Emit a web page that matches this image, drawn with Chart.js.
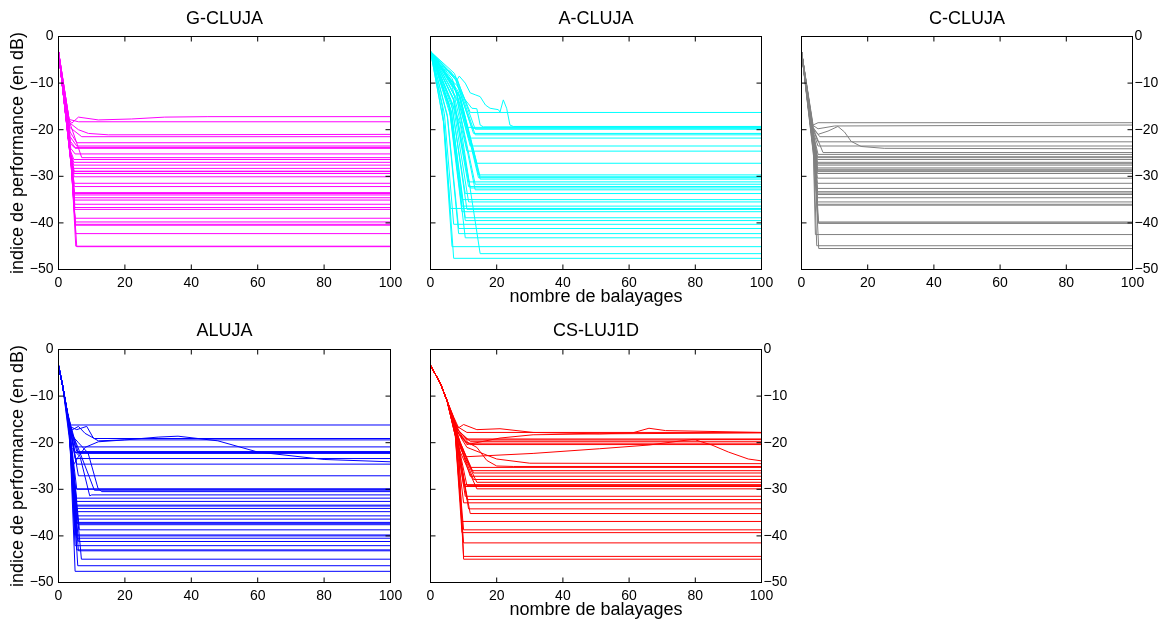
<!DOCTYPE html>
<html>
<head>
<meta charset="utf-8">
<script src="https://cdn.jsdelivr.net/npm/chart.js@4.4.1/dist/chart.umd.min.js"></script>
<style>
  body { margin: 0; background: #fff; }
  #wrap { position: relative; width: 1168px; height: 622px; overflow: hidden; }
  canvas { position: absolute; }
</style>
</head>
<body>
<div id="wrap">
  <canvas id="p1" width="410" height="310" style="left:0px;top:0px"></canvas>
  <canvas id="p2" width="370" height="310" style="left:410px;top:0px"></canvas>
  <canvas id="p3" width="388" height="310" style="left:780px;top:0px"></canvas>
  <canvas id="p4" width="410" height="310" style="left:0px;top:312px"></canvas>
  <canvas id="p5" width="390" height="310" style="left:410px;top:312px"></canvas>
</div>
<script>
const xTicks = [0, 20, 40, 60, 80, 100];
const yTicks = [0, -10, -20, -30, -40, -50];
const xLabel = "nombre de balayages";
const yLabel = "indice de performance (en dB)";

// G-CLUJA : plateau level, sweep where it is reached, one knee on the way down
const gcHead = [[0, -3.2]];
const gcLevel = [-18.3, -21.5, -22.8, -23.5, -23.8, -24.0, -25.2, -26.0, -26.4, -27.0, -27.6, -28.3, -28.9, -29.0, -29.4, -30.1, -31.5, -32.2, -33.5, -33.7, -34.0, -34.6, -35.1, -36.0, -36.7, -37.1, -39.0, -39.8, -40.3, -40.5, -42.3, -45.0, -45.1];
const gcDrop  = [6, 7, 5.5, 5.5, 5, 5, 5, 7, 4.6, 4.6, 4.6, 4.6, 4.7, 4.7, 4.7, 4.7, 4.7, 4.8, 4.8, 4.8, 4.8, 4.8, 4.8, 4.9, 4.9, 4.9, 5, 5, 5, 5.1, 5.2, 5.2, 5.5];
const gcKneeX = [3.2, 3.4, 3.5, 3.5, 3.6, 3.6, 3.7, 3.3, 3.6, 3.6, 3.6, 3.6, 3.6, 3.6, 3.7, 3.7, 3.7, 3.7, 3.7, 3.7, 3.8, 3.8, 3.8, 3.8, 3.8, 3.8, 3.8, 3.8, 3.8, 3.8, 3.9, 3.9, 3.9];
const gcKneeY = [-17.8, -19.5, -20.5, -21.5, -22.5, -23, -24, -18.3, -24.5, -25, -25, -25.5, -25.5, -25.5, -26, -26, -26, -26.5, -26.5, -26.5, -27, -27, -27, -27, -27, -27, -27.5, -27.5, -27.5, -27.5, -27.5, -27.5, -27.5];
const gcExtra = [
  [[0, -3.2], [3.2, -17.9], [4, -18.6], [6, -17.3], [12, -17.9], [22, -17.7], [32, -17.3], [45, -17.2], [100, -17.2]],
  [[0, -3.2], [3.3, -18.5], [6, -20], [9, -20.8], [15, -21.1], [100, -21.0]]
];

// A-CLUJA
const acHead = [[0, -3.2]];
const acLevel = [-16.3, -19.5, -19.7, -19.9, -20.8, -21.1, -21.8, -23.5, -24.6, -27.2, -29.7, -30.1, -30.3, -30.6, -31.2, -31.7, -32.2, -32.5, -32.9, -33.7, -35.0, -35.5, -36.4, -36.9, -37.1, -37.6, -38.9, -39.5, -40.3, -41.2, -42.3, -43.2, -45.1, -46.6, -47.6];
const acDrop  = [12, 11, 12.5, 13.5, 13, 13.5, 11.5, 12, 11, 14, 14.5, 15, 14.5, 15, 11.5, 13.5, 11.5, 12, 13.5, 10.5, 9.5, 11.5, 9.5, 6, 11, 9.5, 10.5, 10.5, 7, 8.5, 8.5, 10.5, 6.5, 15, 7];
const acKneeX = [7.2, 6.6, 7.5, 8.1, 7.8, 8.1, 6.9, 7.2, 6.6, 8.4, 8.7, 9, 8.7, 9, 6.9, 8.1, 6.9, 7.2, 8.1, 6.3, 5.7, 6.9, 5.7, 3.6, 6.6, 5.7, 6.3, 6.3, 4.2, 5.1, 5.1, 6.3, 3.9, 9, 4.2];
const acKneeY = [-7.9, -9.1, -9.1, -9.2, -9.5, -9.6, -9.9, -10.5, -10.9, -11.8, -12.7, -12.9, -13, -13.1, -13.3, -13.5, -13.6, -13.7, -13.9, -14.2, -14.6, -14.8, -15.2, -15.3, -15.4, -15.6, -16, -16.3, -16.6, -16.9, -17.3, -17.6, -18.3, -18.8, -19.2];
const acExtra = [
  [[0, -3.2], [1.5, -6.5], [4.5, -7.1], [6, -7.5], [8, -9.3], [8.7, -8.5], [10.5, -10], [12, -12.1], [13.5, -12.5], [15, -12.9], [16.6, -14.7], [18, -15.4], [20.5, -15.7], [21, -16.2], [22, -13.6], [23, -15.4], [24, -19.0], [25, -19.3], [100, -19.3]],
  [[0, -3.2], [5, -8.5], [8, -10.5], [10.5, -13.6], [12.5, -15.4], [14, -15.5], [15, -19], [16, -19.4], [100, -19.4]]
];

// C-CLUJA
const ccHead = [[0, -3.2]];
const ccLevel = [-21.5, -22.6, -23.5, -24.9, -25.3, -25.8, -26.0, -26.4, -27.0, -27.3, -27.6, -28.2, -28.5, -28.8, -29.0, -29.4, -30.4, -31.5, -32.6, -33.3, -33.6, -33.9, -34.6, -35.5, -36.0, -36.2, -39.8, -40.0, -40.1, -42.5, -44.9, -45.5];
const ccDrop  = [5.5, 5, 5, 6.5, 5, 4.8, 4.8, 4.8, 4.8, 4.8, 4.8, 4.8, 4.8, 4.8, 4.8, 4.8, 4.8, 4.8, 4.8, 4.8, 4.8, 4.8, 4.8, 4.8, 4.8, 4.8, 5, 5, 5.2, 4.2, 4.6, 5.2];
const ccKneeX = [3.5, 3.5, 3.5, 3.4, 3.6, 3.6, 3.6, 3.6, 3.6, 3.6, 3.6, 3.7, 3.7, 3.7, 3.7, 3.7, 3.7, 3.7, 3.8, 3.8, 3.8, 3.8, 3.8, 3.8, 3.8, 3.8, 3.9, 3.9, 3.9, 3.6, 3.7, 3.9];
const ccKneeY = [-19.5, -20, -20.5, -19.5, -21, -21, -21.5, -21.5, -22, -22, -22, -22.5, -22.5, -22.5, -23, -23, -23, -23.5, -24, -24, -24, -24, -24.5, -24.5, -25, -25, -26, -26, -26, -25, -26, -26];
const ccExtra = [
  [[0, -3.2], [3.5, -19], [5, -18.5], [100, -18.5]],
  [[0, -3.2], [3.3, -19], [5, -19.8], [10, -19.2], [100, -19.0]],
  [[0, -3.2], [3.6, -20], [5, -21], [8, -20.3], [11, -19.3], [13, -20.5], [15, -22.5], [18, -23.6], [25, -24], [100, -24.1]]
];

// ALUJA
const alHead = [[0, -3.4], [1.3, -8]];
const alLevel = [-16.2, -20.9, -21.9, -22.1, -22.3, -23.4, -24.6, -27.1, -29.9, -30.0, -31.9, -32.6, -33.4, -33.6, -34.1, -34.8, -35.7, -36.4, -37.1, -37.3, -37.6, -38.7, -39.8, -40.0, -40.5, -41.2, -42.1, -43.0, -43.2, -45.0, -46.4, -47.6];
const alDrop  = [3.6, 5, 5.5, 5, 6, 5, 5.5, 6, 5, 5.5, 5, 5.5, 5, 5.5, 5, 5.5, 5, 5.5, 5, 5.5, 6, 6.3, 5, 5.5, 5.5, 6, 5, 5.5, 6, 6.9, 5.8, 5];
const alKneeX = [2.6, 2.8, 2.8, 2.9, 2.8, 2.9, 2.9, 3, 3, 3, 3, 3, 3, 3, 3, 3.1, 3.1, 3.1, 3.1, 3.1, 3.1, 3.2, 3.2, 3.2, 3.2, 3.2, 3.2, 3.2, 3.2, 3.3, 3.3, 3.3];
const alKneeY = [-13, -14, -14, -14.5, -14, -14.5, -14.5, -15, -15, -15, -15, -15, -15.5, -15.5, -15.5, -15.5, -16, -16, -16, -16, -16, -16, -16.5, -16.5, -16.5, -16.5, -16.5, -17, -17, -17, -17, -17];
const alExtra = [
  [[0, -3.4], [1.3, -8], [3.3, -16.5], [5.5, -17.2], [8.5, -16.5], [10.5, -19], [12, -19.6], [20, -19.4], [30, -18.8], [36, -18.6], [48, -19.6], [60, -22], [80, -23.6], [100, -24.1]],
  [[0, -3.4], [1.3, -8], [3.5, -17.5], [6, -16.5], [8, -18], [10.8, -19.1], [100, -19.1]],
  [[0, -3.4], [1.3, -8], [3.5, -18], [6, -20], [8.9, -22.2], [11.9, -29.8], [13, -30.5], [100, -30.5]],
  [[0, -3.4], [1.3, -8], [3.8, -21], [6.5, -23], [9.4, -31.4], [10, -31.2], [100, -31.2]],
  [[0, -3.4], [1.3, -8], [4.3, -25], [6, -23], [8, -21], [12, -19.8], [20, -19.4], [100, -19.4]],
  [[0, -3.4], [1.3, -8], [3.5, -17], [5.8, -20.9], [9.3, -27.4], [10.8, -30.2], [100, -30.2]]
];

// CS-LUJ1D
const csHead = [[0, -3.4], [3, -7.3], [5, -11]];
const csLevel = [-17.8, -19.2, -19.7, -20.1, -20.4, -25.3, -26.0, -26.5, -27.2, -27.9, -28.5, -29.0, -29.2, -29.4, -29.9, -31.5, -32.2, -32.9, -34.2, -35.2, -36.9, -38.7, -39.3, -41.5, -44.4, -45.0];
const csDrop  = [11, 11, 12, 11, 12, 12, 12.5, 13, 12, 13, 14, 10, 11, 10.5, 14, 10.5, 11, 10, 11.5, 12, 9.5, 10, 9.5, 10, 10, 10];
const csKneeX = [8, 8, 8.5, 8, 8.5, 8.5, 8.5, 9, 8.5, 9, 9, 7.5, 8, 8, 9, 7.5, 8, 7.5, 8, 8, 7.5, 7.5, 7.5, 7.5, 8, 8.5];
const csKneeY = [-16.5, -17, -17.5, -17.5, -18, -19, -19.5, -20, -19.5, -21, -21, -18, -19, -19, -22, -18, -19, -18, -19, -20, -18, -18, -18.5, -18.5, -20, -21];
const csExtra = [
  [[0, -3.4], [3, -7.3], [5, -11], [7, -14.5], [8.5, -16.8], [10, -16.1], [14, -17.2], [21, -17.0], [31, -17.8], [51, -18.1], [61, -17.9], [66, -16.9], [71, -17.4], [100, -17.8]],
  [[0, -3.4], [3, -7.3], [5, -11], [7.5, -16], [9, -18], [11, -20.4], [21, -19], [31, -18.3], [50, -18.1], [100, -17.9]],
  [[0, -3.4], [3, -7.3], [5, -11], [8, -18], [10, -22.5], [11, -23], [31, -22.3], [51, -21.3], [66, -20.5], [79, -19.3], [100, -19.3]],
  [[0, -3.4], [3, -7.3], [5, -11], [8, -17], [11, -19.4], [80, -19.4], [85, -20.5], [90, -22], [96, -23.5], [100, -23.9]],
  [[0, -3.4], [3, -7.3], [5, -11], [7.5, -17], [10, -19.5], [14, -21], [17, -23.8], [20, -25], [25, -25.1], [100, -25.1]],
  [[0, -3.4], [3, -7.3], [5, -11], [8, -17.5], [11, -21], [20, -23.5], [30, -24.4], [100, -24.5]]
];

Chart.defaults.font.family = "'Liberation Sans', Arial, Helvetica, sans-serif";
Chart.defaults.color = "#000";

function buildLines(head, level, drop, kneeX, kneeY, extra) {
  const lines = level.map((v, i) => head.concat([[kneeX[i], kneeY[i]], [drop[i], v], [100, v]]));
  return lines.concat(extra);
}

// matlab-like box with inward ticks on the 4 sides
const frameTicks = {
  id: "frameTicks",
  afterDatasetsDraw(chart) {
    const { ctx, chartArea: a, scales } = chart;
    const x = scales.x, y = scales.y, len = 5;
    ctx.save();
    ctx.strokeStyle = "#000";
    ctx.lineWidth = 1;
    ctx.beginPath();
    xTicks.forEach(v => {
      const px = x.getPixelForValue(v);
      ctx.moveTo(px, a.bottom); ctx.lineTo(px, a.bottom - len);
      ctx.moveTo(px, a.top); ctx.lineTo(px, a.top + len);
    });
    yTicks.forEach(v => {
      const py = y.getPixelForValue(v);
      ctx.moveTo(a.left, py); ctx.lineTo(a.left + len, py);
      ctx.moveTo(a.right, py); ctx.lineTo(a.right - len, py);
    });
    ctx.stroke();
    ctx.strokeRect(a.left, a.top, a.right - a.left, a.bottom - a.top);
    ctx.restore();
  }
};

const panels = [
  { id: "p1", title: "G-CLUJA", color: "#ff00ff", lines: buildLines(gcHead, gcLevel, gcDrop, gcKneeX, gcKneeY, gcExtra),
    box: [0, 0, 410, 310], area: [58.5, 36.5, 390.5, 269.5], yPos: "left", yTickLabels: true, yTitle: true, xTitle: false },
  { id: "p2", title: "A-CLUJA", color: "#00ffff", lines: buildLines(acHead, acLevel, acDrop, acKneeX, acKneeY, acExtra),
    box: [410, 0, 370, 310], area: [430.5, 36.5, 761.5, 269.5], yPos: "left", yTickLabels: false, yTitle: false, xTitle: true },
  { id: "p3", title: "C-CLUJA", color: "#808080", lines: buildLines(ccHead, ccLevel, ccDrop, ccKneeX, ccKneeY, ccExtra),
    box: [780, 0, 388, 310], area: [801.5, 36.5, 1132.5, 269.5], yPos: "right", yTickLabels: true, yTitle: false, xTitle: false },
  { id: "p4", title: "ALUJA", color: "#0000ff", lines: buildLines(alHead, alLevel, alDrop, alKneeX, alKneeY, alExtra),
    box: [0, 312, 410, 310], area: [58.5, 349.5, 390.5, 582.5], yPos: "left", yTickLabels: true, yTitle: true, xTitle: false },
  { id: "p5", title: "CS-LUJ1D", color: "#ff0000", lines: buildLines(csHead, csLevel, csDrop, csKneeX, csKneeY, csExtra),
    box: [410, 312, 390, 310], area: [430.5, 349.5, 761.5, 582.5], yPos: "right", yTickLabels: true, yTitle: false, xTitle: true }
];

function makePanel(p) {
  const [bx, by, bw, bh] = p.box;
  const [al, at, ar, ab] = p.area;
  const L = al - bx, R = bx + bw - ar, T = at - by, B = by + bh - ab;
  const yWidth = p.yPos === "left" ? L : R;

  const datasets = p.lines.map(pts => ({
    data: pts.map(q => ({ x: q[0], y: q[1] })),
    borderColor: p.color,
    borderWidth: 1,
    pointRadius: 0,
    fill: false,
    tension: 0,
    xAxisID: "x",
    yAxisID: "y"
  }));

  return new Chart(document.getElementById(p.id), {
    type: "line",
    data: { datasets: datasets },
    options: {
      responsive: false,
      animation: false,
      events: [],
      layout: { padding: { left: p.yPos === "right" ? L : 0, right: p.yPos === "left" ? R : 0, top: 0, bottom: 0 } },
      plugins: { legend: { display: false }, tooltip: { enabled: false } },
      scales: {
        x: {
          type: "linear", position: "bottom", min: 0, max: 100,
          grid: { display: false, drawTicks: false }, border: { display: false },
          ticks: { stepSize: 20, padding: 5, maxRotation: 0, autoSkip: false, font: { size: 14 } },
          title: { display: p.xTitle, text: xLabel, font: { size: 18 }, padding: { top: 0, bottom: B - 27.5 - 10.8 } },
          afterFit(s) { s.height = B; }
        },
        xTop: {
          type: "linear", position: "top", min: 0, max: 100,
          grid: { display: false, drawTicks: false }, border: { display: false },
          ticks: { display: false },
          title: { display: true, text: p.title, font: { size: 18 }, padding: { top: 8, bottom: 0 } },
          afterFit(s) { s.height = T; }
        },
        y: {
          type: "linear", position: p.yPos, min: -50, max: 0,
          grid: { display: false, drawTicks: false }, border: { display: false },
          ticks: {
            display: p.yTickLabels, stepSize: 10, padding: p.yPos === "left" ? 5 : 2, font: { size: 14 },
            callback: v => (v < 0 ? "\u2212" + (-v) : String(v))
          },
          title: { display: p.yTitle, text: yLabel, font: { size: 18 }, padding: { top: 7.5, bottom: 0 } },
          afterFit(s) { s.width = yWidth; }
        }
      }
    },
    plugins: [frameTicks]
  });
}

panels.forEach(makePanel);
</script>
</body>
</html>
